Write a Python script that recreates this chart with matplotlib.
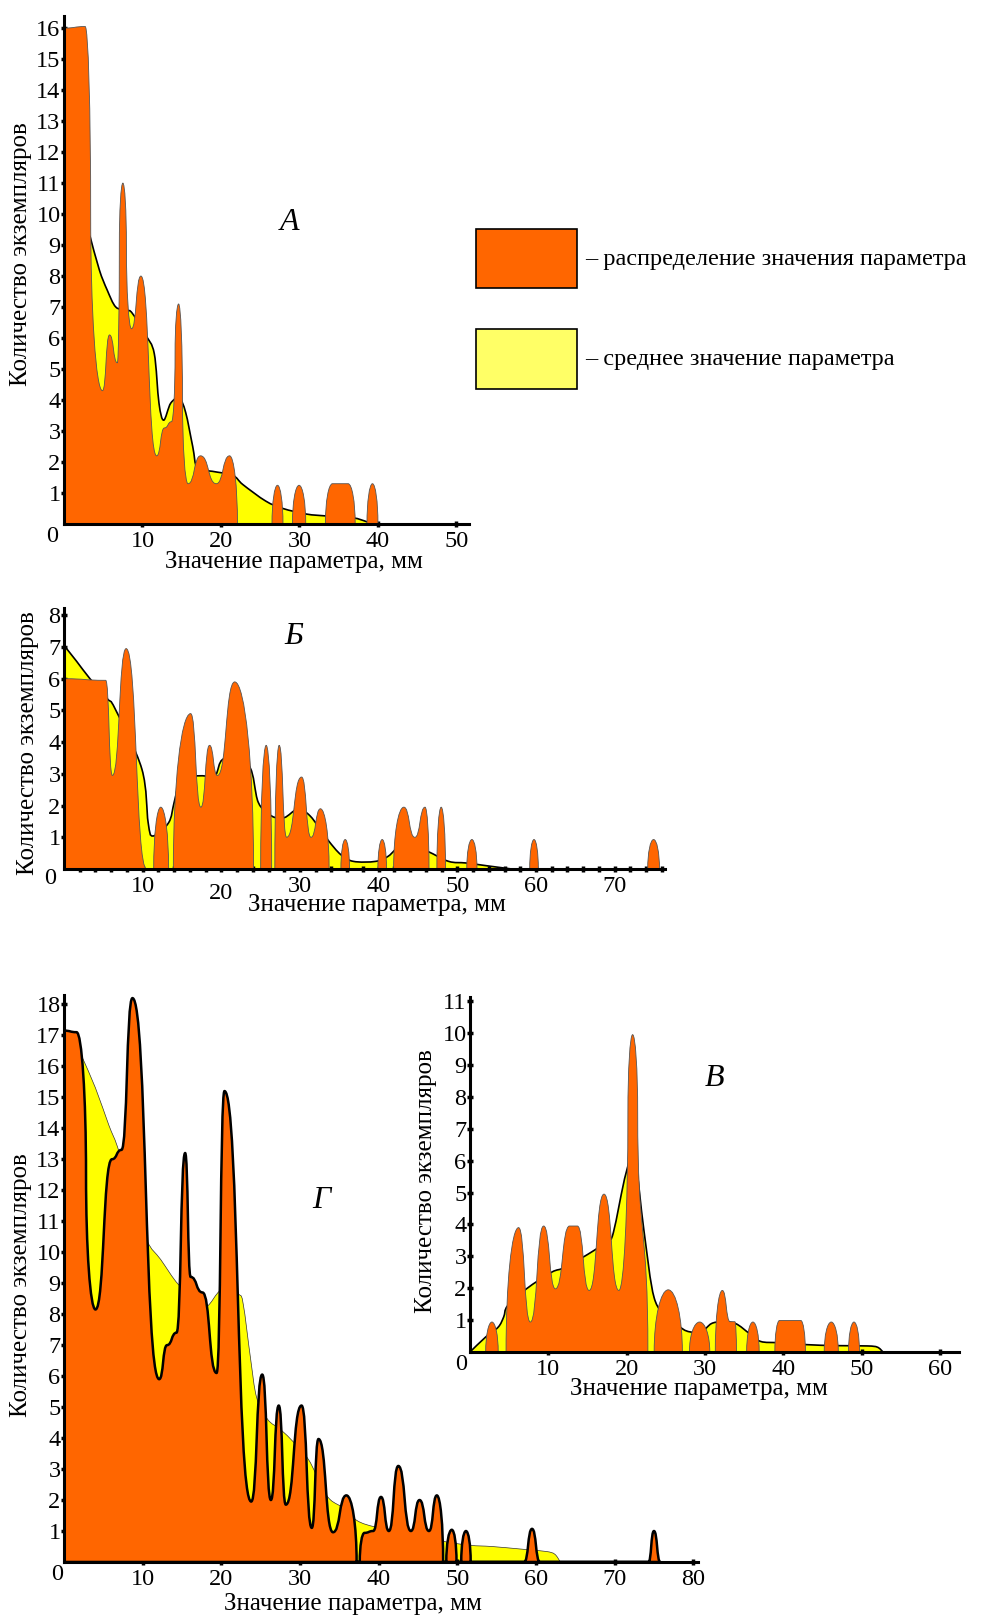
import matplotlib
matplotlib.use("Agg")
import matplotlib.pyplot as plt
from matplotlib.path import Path
from matplotlib.patches import PathPatch, Rectangle
from matplotlib.transforms import ScaledTranslation

plt.rcParams["font.family"] = ["Liberation Serif", "DejaVu Serif"]

# ---------------------------------------
# data: orange outline = (x, count, tangent)
# tangent: "h" = flat (top / bottom), "v" = steep edge
# yellow = mean curve points
# ---------------------------------------
a_x = [0, 2.7, 3.4, 4.9, 5.8, 6.8, 7.05, 7.5, 7.95, 8.6, 9.8, 11.8, 12.8, 13.7, 14.15, 14.6, 15.1, 15.8,
       17.4, 19.4, 21.1, 22.1,
       26.5, 27.2, 27.9, 29.1, 29.95, 30.8, 33.3, 34.2, 36.2, 37.1, 38.6, 39.3, 40.0]
a_y = [16.0, 16.05, 10.0, 4.3, 6.1, 5.2, 9.0, 11.0, 9.0, 6.3, 8.0, 2.2, 3.1, 3.3, 5.5, 7.1, 4.0, 1.3,
       2.2, 1.3, 2.2, 0,
       0, 1.25, 0, 0, 1.25, 0, 0, 1.3, 1.3, 0, 0, 1.3, 0]
a_t = "hhvhhhvhvhhhhhvhvh" + "hhhv" + "vhvvhvvhhvvhv"
a_mean_x = [3.3, 4.5, 5.5, 6.6, 8.0, 8.7, 10.4, 11.5, 12.1, 12.7, 13.6, 14.7, 15.5, 16.4, 17.0,
            18.9, 21.5, 22.8, 25.7, 27.9, 30.9, 33.4, 36.8, 38.5, 39.3]
a_mean_y = [9.3, 8.2, 7.55, 7.0, 6.9, 6.8, 6.1, 5.5, 3.9, 3.35, 3.9, 4.05, 3.6, 2.5, 1.8,
            1.7, 1.57, 1.27, 0.74, 0.5, 0.32, 0.26, 0.2, 0.08, 0.0]

b_x = [0, 5.3, 6.15, 7.9, 10.5, 11.4, 12.3, 13.3, 13.9, 16.1, 17.4, 18.5, 19.5, 21.7, 24.1,
       25.0, 25.7, 26.4, 26.8, 27.35, 28.3, 30.2, 31.4, 32.6, 33.7,
       35.2, 35.75, 36.3, 39.9, 40.45, 41.0, 41.9, 43.2, 44.6, 45.9, 46.4,
       47.4, 47.95, 48.5, 51.2, 51.85, 52.5, 59.2, 59.75, 60.3, 74.2, 74.95, 75.7]
b_y = [6.0, 5.95, 2.95, 6.95, 0, 0, 1.95, 0, 0, 4.9, 1.95, 3.9, 2.95, 5.9, 0,
       0, 3.9, 0, 0, 3.9, 1.0, 2.9, 1.0, 1.9, 0,
       0, 0.93, 0, 0, 0.93, 0, 0, 1.95, 1.0, 1.95, 0,
       0, 1.95, 0, 0, 0.93, 0, 0, 0.93, 0, 0, 0.93, 0]
b_t = "hhhhhvhvvhhhhhv" + "vhvvhhhhhv" + "vhvvhvvhhhv" + "vhvvhvvhvvhv"
b_mean_x = [0, 1.6, 3.3, 5.5, 6.5, 9.9, 10.7, 11.3, 13.3, 14.0, 14.8, 15.9, 17.6, 19.2, 20.3,
            23.5, 24.7, 26.4, 28.0, 29.7, 31.3, 33.5, 35.2, 36.8, 39.6, 41.2, 43.4, 46.2,
            48.9, 51.1, 53.8, 56.9]
b_mean_y = [7.05, 6.55, 6.0, 5.37, 5.05, 3.15, 1.46, 1.04, 1.46, 2.1, 2.84, 2.92, 2.94, 2.94, 3.47,
            3.26, 2.1, 1.67, 1.62, 1.88, 1.67, 0.93, 0.45, 0.24, 0.24, 0.4, 0.83, 0.56,
            0.24, 0.19, 0.1, 0.0]

v_x = [2.0, 2.8, 3.6, 4.6, 6.2, 7.7, 9.4, 10.9, 12.7, 13.7, 15.2, 17.1, 19.0, 20.15, 20.75, 21.4, 22.7,
       23.5, 25.3, 27.1, 28.0, 29.3, 30.6, 31.3, 32.2, 33.2, 33.8, 34.0,
       35.3, 36.1, 36.9, 38.9, 39.5, 42.2, 42.8, 45.2, 46.1, 47.0, 48.3, 49.0, 49.7]
v_y = [0, 0.94, 0, 0, 3.9, 0.94, 3.95, 1.98, 3.95, 3.95, 1.93, 4.95, 1.93, 7.5, 9.95, 7.5, 0,
       0, 1.95, 0, 0, 0.94, 0, 0, 1.93, 0.95, 0.95, 0,
       0, 0.94, 0, 0, 0.99, 0.99, 0, 0, 0.94, 0, 0, 0.94, 0]
v_t = "vhvvhhhhhhhhhvhvv" + "vhvvhvvhhhv" + "vhvvhhvvhvvhv"
v_mean_x = [0, 2.0, 3.6, 4.3, 4.8, 7.2, 10.4, 12.2, 15.8, 17.6, 18.3, 19.9, 21.0, 22.2, 23.5,
            25.3, 27.1, 28.1, 29.5, 30.8, 32.1, 33.9, 35.7, 37.1, 39.4, 43.0, 46.6, 50.7,
            52.0, 52.7]
v_mean_y = [0, 0.47, 0.78, 1.1, 1.45, 1.98, 2.5, 2.66, 3.18, 3.5, 3.75, 5.6, 6.1, 3.8, 1.7,
            1.1, 0.73, 0.63, 0.62, 0.89, 0.94, 0.89, 0.57, 0.33, 0.29, 0.23, 0.2, 0.19,
            0.15, 0.0]

g_x = [0, 1.6, 2.8, 4.0, 6.1, 7.3, 8.7, 12.1, 13.1, 14.3, 15.4, 16.1, 17.6, 19.4, 20.4, 23.8,
       25.2, 26.3, 27.3, 28.2, 30.2, 31.5, 32.35, 34.2, 35.9, 37.2,
       37.6, 38.2, 39.3, 40.3, 41.3, 42.5, 44.1, 45.2, 46.4, 47.4, 48.2,
       48.6, 49.3, 49.9, 50.5, 51.1, 51.7, 58.5, 59.5, 60.5, 74.3, 75.0, 75.8]
g_y = [17.15, 17.1, 12.5, 8.15, 13.0, 13.3, 18.2, 5.9, 7.0, 7.4, 13.2, 9.2, 8.7, 6.1, 15.2, 1.95,
       6.05, 2.0, 5.05, 1.85, 5.05, 1.1, 3.97, 0.96, 2.15, 0,
       0, 0.94, 1.0, 2.1, 1.0, 3.1, 1.0, 2.0, 1.0, 2.15, 0,
       0, 1.04, 0, 0, 1.0, 0, 0, 1.07, 0, 0, 1.0, 0]
g_t = "hhvhhhhhhhhhhhhh" + "hhhhhhhhhv" + "vhhhhhhhhhv" + "vhvvhvhhhhhh"
g_mean_x = [1.5, 2.3, 4.0, 5.7, 6.8, 8.5, 10.5, 12.3, 14.5, 16.5, 18.1, 20.0, 22.2, 22.8, 23.7,
            24.5, 25.9, 27.4, 28.8, 31.1, 32.8, 33.9, 35.6, 37.3, 39.6, 43.0, 46.5, 48.2,
            51.6, 54.4, 58.4, 61.3, 62.4, 63.1]
g_mean_y = [16.8, 16.3, 15.3, 14.1, 13.4, 12.0, 10.4, 9.76, 8.97, 8.6, 8.25, 8.78, 8.64, 8.3, 6.6,
            5.3, 4.6, 4.3, 3.97, 3.3, 2.4, 2.0, 1.73, 1.33, 1.13, 1.0, 0.87, 0.67,
            0.54, 0.5, 0.41, 0.34, 0.25, 0.0]

W, H = 984, 1618
ORANGE = "#FF6600"
YELLOW = "#FFFF00"


def fx(px):
    return px / W


def fy(py):
    return 1 - py / H


def orange_path(xs, ys, kinds, k=0.55):
    verts = [(xs[0], 0), (xs[0], ys[0])]
    codes = [Path.MOVETO, Path.LINETO]
    for i in range(len(xs) - 1):
        x0, y0, x1, y1 = xs[i], ys[i], xs[i + 1], ys[i + 1]
        dx, dy = x1 - x0, y1 - y0
        c1 = (x0 + k * dx, y0) if kinds[i] == "h" else (x0, y0 + k * dy)
        c2 = (x1 - k * dx, y1) if kinds[i + 1] == "h" else (x1, y1 - k * dy)
        verts += [c1, c2, (x1, y1)]
        codes += [Path.CURVE4] * 3
    verts += [(xs[-1], 0), (xs[0], 0)]
    codes += [Path.LINETO, Path.CLOSEPOLY]
    return Path(verts, codes)


def mean_paths(xs, ys):
    pts = list(zip(xs, ys))
    n = len(pts)
    verts = [pts[0]]
    codes = [Path.MOVETO]
    for i in range(n - 1):
        p0 = pts[i - 1] if i > 0 else pts[i]
        p1, p2 = pts[i], pts[i + 1]
        p3 = pts[i + 2] if i + 2 < n else pts[i + 1]
        c1 = (p1[0] + (p2[0] - p0[0]) / 6, p1[1] + (p2[1] - p0[1]) / 6)
        c2 = (p2[0] - (p3[0] - p1[0]) / 6, p2[1] - (p3[1] - p1[1]) / 6)
        verts += [c1, c2, p2]
        codes += [Path.CURVE4] * 3
    line = Path(verts, codes)
    fill = Path([(xs[0], 0)] + verts + [(xs[-1], 0), (xs[0], 0)],
                [Path.MOVETO, Path.LINETO] + codes[1:] + [Path.LINETO, Path.CLOSEPOLY])
    return line, fill


def panel(left, right, base, top, xmax, ymax, ox, oy, ot, mx, my, yticks, xticks,
          edge="#555555", edge_w=0.6, mean_w=1.2, mean_c="black"):
    ax = fig.add_axes([fx(left), fy(base), (right - left) / W, (base - top) / H])
    ax.set_xlim(0, xmax)
    ax.set_ylim(0, ymax)
    line, fill = mean_paths(mx, my)
    ax.add_patch(PathPatch(fill, facecolor=YELLOW, edgecolor="none", zorder=1))
    ax.add_patch(PathPatch(line, facecolor="none", edgecolor=mean_c, lw=mean_w, zorder=2))
    ax.add_patch(PathPatch(orange_path(ox, oy, ot), facecolor=ORANGE, edgecolor=edge,
                           lw=edge_w, zorder=3, joinstyle="round"))
    for s in ["top", "right"]:
        ax.spines[s].set_visible(False)
    for s in ["left", "bottom"]:
        ax.spines[s].set_linewidth(2.2)
        ax.spines[s].set_zorder(5)
    ax.set_yticks(yticks)
    ax.set_xticks(xticks)
    ax.tick_params(axis="both", direction="inout", length=4, width=2.5, labelsize=17.5)
    ax.tick_params(axis="y", pad=0.5)
    ax.tick_params(axis="x", pad=3)
    ax.patch.set_visible(False)
    return ax


fig = plt.figure(figsize=(W / 100, H / 100), dpi=100)

# A
panel(64, 469, 524, 16, 51.6, 16.39, a_x, a_y, a_t, a_mean_x, a_mean_y,
      range(1, 17), range(10, 51, 10))
# Б
axb = panel(64, 665, 869, 608, 76.4, 8.23, b_x, b_y, b_t, b_mean_x, b_mean_y,
            range(1, 9), range(10, 71, 10))
axb.set_xticks(range(2, 77, 2), minor=True)
axb.tick_params(axis="x", which="minor", direction="inout", length=4, width=2.5)
lab20 = axb.get_xticklabels()[1]
lab20.set_transform(lab20.get_transform() + ScaledTranslation(0, -7 / 100, fig.dpi_scale_trans))
# В
panel(470, 959, 1352, 997, 62.4, 11.13, v_x, v_y, v_t, v_mean_x, v_mean_y,
      range(1, 12), range(10, 61, 10))
# Г
panel(64, 698, 1562, 995, 80.6, 18.3, g_x, g_y, g_t, g_mean_x, g_mean_y,
      range(1, 19), range(10, 81, 10), edge="black", edge_w=1.8, mean_w=0.5, mean_c="#333333")

xlab = "Значение параметра, мм"
ylab = "Количество экземпляров"
for (xx, yy) in [(294, 562), (377, 905), (699, 1389), (353, 1604)]:
    fig.text(fx(xx), fy(yy), xlab, fontsize=18, ha="center", va="center")
for (xx, yy) in [(21, 254), (28, 743), (426, 1181), (21, 1285)]:
    fig.text(fx(xx), fy(yy), ylab, fontsize=18, ha="center", va="center", rotation=90)
for (xx, yy) in [(52, 537), (50, 878), (461, 1365), (57, 1575)]:
    fig.text(fx(xx), fy(yy), "0", fontsize=17.5, ha="center", va="center")
for (xx, yy, t) in [(290, 222, "А"), (294, 637, "Б"), (714, 1079, "В"), (321, 1200, "Г")]:
    fig.text(fx(xx), fy(yy), t, fontsize=23, style="italic", ha="center", va="center")

# legend
fig.patches.append(Rectangle((fx(476), fy(288)), 101 / W, 59 / H, transform=fig.transFigure,
                             facecolor=ORANGE, edgecolor="black", lw=1.2))
fig.patches.append(Rectangle((fx(476), fy(389)), 101 / W, 60 / H, transform=fig.transFigure,
                             facecolor="#FFFF66", edgecolor="black", lw=1.2))
fig.text(fx(585), fy(259), "– распределение значения параметра", fontsize=17.5, ha="left", va="center")
fig.text(fx(585), fy(360), "– среднее значение параметра", fontsize=17.5, ha="left", va="center")

fig.savefig("out.png", dpi=100)
